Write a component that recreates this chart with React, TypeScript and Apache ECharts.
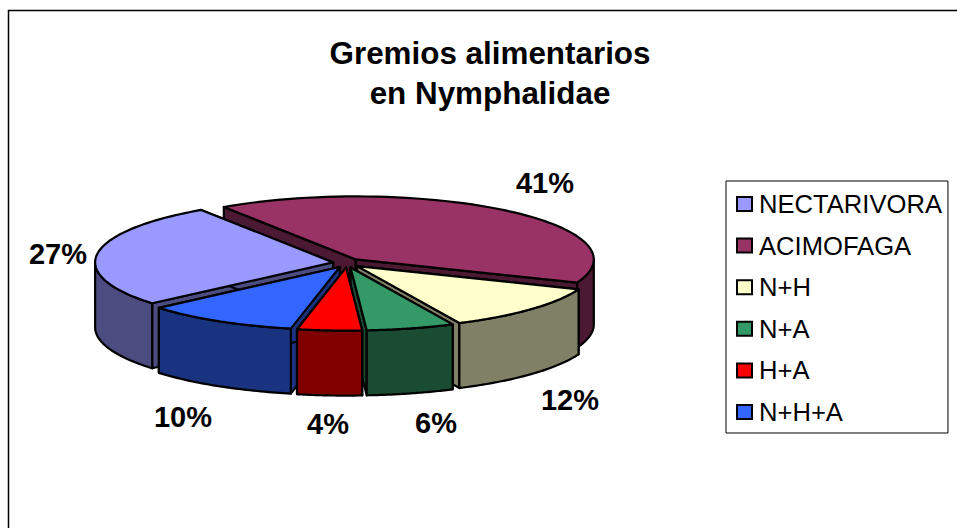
import React, { useEffect, useRef } from "react";
import * as echarts from "echarts";

const titleLines = ["Gremios alimentarios", "en Nymphalidae"];
const categories = ["NECTARIVORA", "ACIMOFAGA", "N+H", "N+A", "H+A", "N+H+A"];
const shares = [27.0, 40.5, 12, 6, 4.4, 10.49];
const topColors = ["#9999FF", "#993366", "#FFFFCC", "#339966", "#FF0000", "#3366FF"];
const wallColors = ["#4C4C80", "#4C1933", "#808066", "#194C33", "#800000", "#193380"];
const paintOrder = [1, 2, 0, 5, 3, 4];
const labelSpots = [[58, 254], [545, 183], [570, 400], [436, 423], [328, 424], [183, 417]];

const START = 139.5, CX = 347, CY = 263, RX = 238, RY = 63, DEPTH = 65, EX = 14, EY = 4.6;
const total = shares.reduce((a, b) => a + b, 0);

function sliceRender(i: number) {
  return () => {
    const before = shares.slice(0, i).reduce((a, b) => a + b, 0);
    const a0 = START + (before / total) * 360;
    const a1 = a0 + (shares[i] / total) * 360;
    const mid = ((a0 + a1) / 2) * Math.PI / 180;
    const ox = CX + EX * Math.cos(mid);
    const oy = CY + EY * Math.sin(mid);
    const at = (deg: number): number[] => [
      ox + RX * Math.cos(deg * Math.PI / 180),
      oy + RY * Math.sin(deg * Math.PI / 180),
    ];
    const down = (p: number[]) => [p[0], p[1] + DEPTH];
    const stroke = { stroke: "#000", lineWidth: 2.2, lineJoin: "round" };
    const poly = (points: number[][], fill: string) => ({
      type: "polygon", shape: { points }, style: { fill, ...stroke }, silent: true,
    });
    const apex = [ox, oy];
    const children: any[] = [];
    for (const e of [a0, a1]) {
      const p = at(e);
      children.push(poly([apex, p, down(p), down(apex)], wallColors[i]));
    }
    for (const k of [0, 360]) {
      const lo = Math.max(a0, k), hi = Math.min(a1, k + 180);
      if (hi > lo) {
        const arc: number[][] = [];
        for (let d = lo; d <= hi + 0.001; d += (hi - lo) / 40) arc.push(at(d));
        children.push(poly([...arc, ...arc.slice().reverse().map(down)], wallColors[i]));
      }
    }
    const top: number[][] = [apex];
    for (let d = a0; d <= a1 + 0.001; d += (a1 - a0) / 60) top.push(at(d));
    children.push(poly(top, topColors[i]));
    return { type: "group", children };
  };
}

export default function App() {
  const ref = useRef<HTMLDivElement>(null);
  useEffect(() => {
    const chart = echarts.init(ref.current!, undefined, { renderer: "svg" });
    chart.setOption({
      animation: false,
      backgroundColor: "#fff",
      title: {
        text: titleLines.join("\n"),
        left: 485, top: 28, textAlign: "center",
        textStyle: { fontFamily: "Liberation Sans", fontWeight: "bold", fontSize: 31.4, lineHeight: 40, color: "#000" },
      },
      legend: {
        orient: "vertical",
        left: 726, top: 181,
        padding: [10, 6, 8, 10],
        backgroundColor: "#fff",
        borderColor: "#000", borderWidth: 1,
        itemWidth: 15, itemHeight: 14, itemGap: 15.6, selectedMode: false,
        icon: "rect",
        data: categories,
        textStyle: { fontFamily: "Liberation Sans", fontSize: 25.6, color: "#000", padding: [-4, 0, 0, 2], lineHeight: 28 },
      },
      series: categories.map((name, i) => ({
        type: "custom",
        name,
        coordinateSystem: "none",
        z: 2 + paintOrder.indexOf(i),
        silent: true,
        itemStyle: { color: topColors[i], borderColor: "#000", borderWidth: 1.5 },
        data: [shares[i]],
        renderItem: sliceRender(i),
      })),
      graphic: [
        { type: "rect", z: -1, silent: true, shape: { x: 8.5, y: 10.5, width: 1200, height: 900 }, style: { fill: "none", stroke: "#000", lineWidth: 1.5 } },
        ...shares.map((s, i) => ({
          type: "text", silent: true, x: labelSpots[i][0], y: labelSpots[i][1],
          style: { text: `${Math.round(s)}%`, fill: "#000", font: "bold 29px 'Liberation Sans'", align: "center", verticalAlign: "middle" },
        })),
      ],
    });
    return () => chart.dispose();
  }, []);
  return <div ref={ref} style={{ position: "fixed", left: 0, top: 0, width: 957, height: 528 }} />;
}
